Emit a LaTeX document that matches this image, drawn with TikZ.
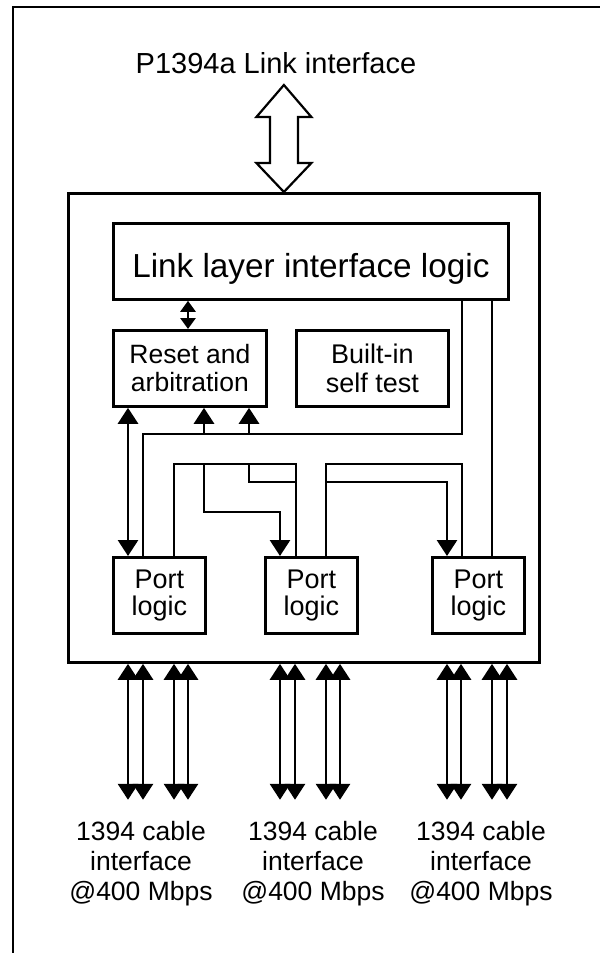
\documentclass[tikz,border=0pt]{standalone}
\usepackage{fontspec}
\setmainfont{Liberation Sans}
\usetikzlibrary{shapes,arrows,arrows.meta,positioning,calc}
\tikzstyle{blk} = [draw, line width=2.8, inner sep=0, align=center, anchor=north west]
\tikzstyle{wire} = [line width=2.8]
\tikzstyle{into} = [wire, {Triangle[width=20pt,length=16pt]}-]
\tikzstyle{onto} = [wire, -{Triangle[width=20pt,length=16pt]}]
\tikzstyle{both} = [wire, {Triangle[width=20pt,length=16pt]}-{Triangle[width=20pt,length=16pt]}]

\begin{document}
\begin{tikzpicture}[x=1pt, y=-1pt]
      \useasboundingbox (0,0) rectangle (600,953);
      \draw[wire] (13,953) -- (13,7) -- (600,7);
      \node[font=\fontsize{29}{30}\selectfont] (title) at (276,63) {P1394a Link interface};
      \node[blk, minimum width=471, minimum height=469] (main) at (67,192) {};
      \node[blk, minimum width=395, text height=54pt, text depth=22pt, font=\fontsize{33.3}{35}\selectfont] (link) at (112,222) {Link layer interface logic};
      \node[blk, minimum width=153, minimum height=76, font=\fontsize{26.5}{28}\selectfont] (reset) at (112,329) {Reset and\\arbitration};
      \node[blk, minimum width=152, minimum height=76, font=\fontsize{27}{29}\selectfont] (bist) at (295,329) {Built-in\\self test};
      \node[blk, minimum width=92, minimum height=76, font=\fontsize{27}{27}\selectfont] (port1) at (112,556) {Port\\logic};
      \node[blk, minimum width=92, minimum height=76, font=\fontsize{27}{27}\selectfont] (port2) at (264,556) {Port\\logic};
      \node[blk, minimum width=92, minimum height=76, font=\fontsize{27}{27}\selectfont] (port3) at (431,556) {Port\\logic};
      \node[font=\fontsize{26.5}{30}\selectfont, align=center] (cable1) at (141,864) {1394 cable\\interface\\@400 Mbps};
      \node[font=\fontsize{26.5}{30}\selectfont, align=center] (cable2) at (313,864) {1394 cable\\interface\\@400 Mbps};
      \node[font=\fontsize{26.5}{30}\selectfont, align=center] (cable3) at (481,864) {1394 cable\\interface\\@400 Mbps};
      \draw[line width=2.2, fill=white] ([xshift=-20]main.north) -- ++(27.5,-29) -- ++(-13.5,0) -- ++(0,-46) -- ++(13.5,0) -- ++(-27.5,-32) -- ++(-27.5,32) -- ++(13.5,0) -- ++(0,46) -- ++(-13.5,0) -- cycle;
      \draw[wire, {Triangle[width=15pt,length=11pt]}-{Triangle[width=15pt,length=11pt]}] (188,0 |- link.south) -- (188,0 |- reset.north);
      \coordinate (lbus) at (143,434);
      \draw[wire] (462,0 |- link.south) |- (lbus) -- (143,0 |- port1.north);
      \draw[into] (204,0 |- reset.south) -- (204,0 |- lbus);
      \draw[into] (249,0 |- reset.south) -- (249,0 |- lbus);
      \draw[both] (128,0 |- reset.south) -- (128,0 |- port1.north);
      \draw[wire] (492,0 |- link.south) -- (492,0 |- port3.north);
      \draw[wire] (174,0 |- port1.north) |- (296,464) -- (296,0 |- port2.north);
      \draw[onto] (204,464) |- (280,512) -- (280,0 |- port2.north);
      \draw[wire] (249,464) |- (296,482);
      \draw[wire] (326,0 |- port2.north) |- (462,464) -- (462,0 |- port3.north);
      \draw[onto] (326,482) -| (447,0 |- port3.north);
      \foreach \x in {128,143,174,188,280,295,326,340,447,461,492,507}
        \draw[both] (\x,0 |- main.south) -- ++(0,136);
    \end{tikzpicture}
\end{document}
